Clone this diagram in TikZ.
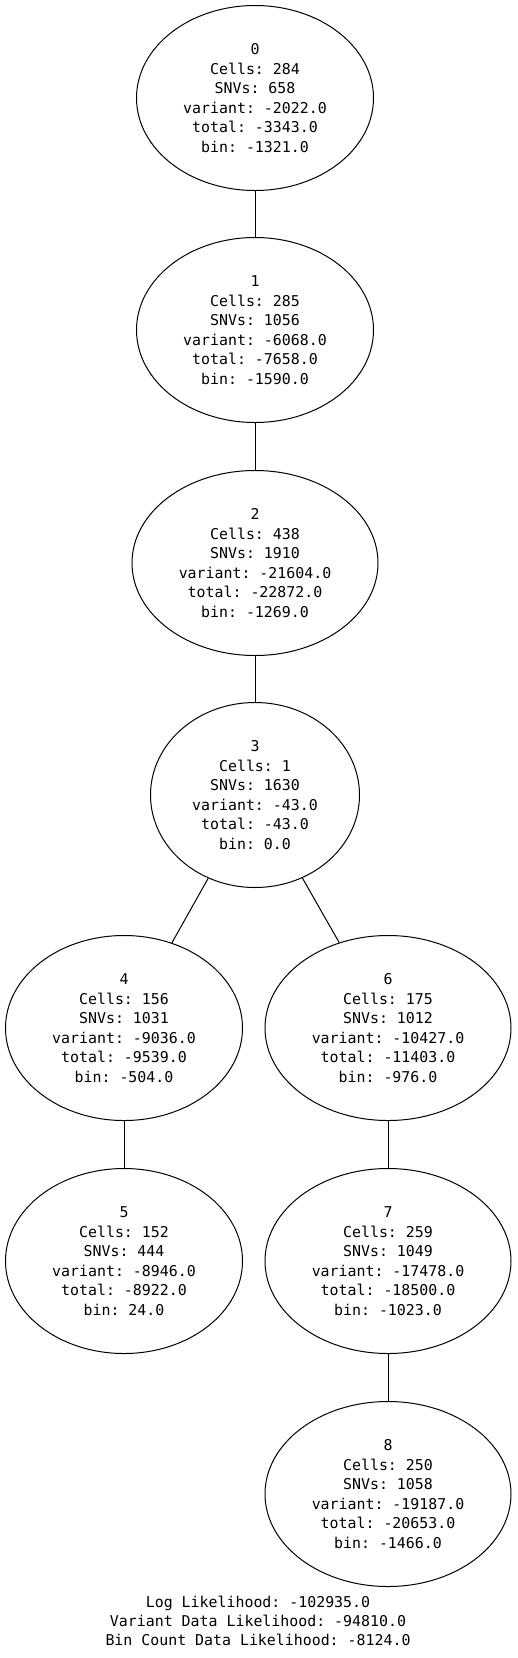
\documentclass[tikz,border=0pt]{standalone}
\usepackage{fontspec}
\newfontfamily\dvm{DejaVu Sans Mono}
\usetikzlibrary{shapes.geometric}
\frenchspacing
\tikzset{
  treenode/.style={ellipse, draw=black, line width=1pt, inner sep=0pt,
    minimum height=185pt, align=center,
    font=\dvm\frenchspacing\fontsize{14.9}{19.5}\selectfont},
  wideA/.style={minimum width=237pt},
  wideB/.style={minimum width=246pt},
  wideC/.style={minimum width=209pt},
  treeedge/.style={draw=black, line width=1pt},
  footer/.style={align=center, inner sep=0pt, font=\dvm\frenchspacing\fontsize{14.9}{19}\selectfont}
}
\begin{document}
\begin{tikzpicture}[x=1pt,y=-1pt]
\fill[white] (0,0) rectangle (517,1658);
\useasboundingbox (0,0) rectangle (517,1658);
\node[treenode,wideA] (n0) at (255,98) {0\\Cells: 284\\SNVs: 658\\variant: -2022.0\\total: -3343.0\\bin: -1321.0};
\node[treenode,wideA] (n1) at (255,330) {1\\Cells: 285\\SNVs: 1056\\variant: -6068.0\\total: -7658.0\\bin: -1590.0};
\node[treenode,wideB] (n2) at (255,563) {2\\Cells: 438\\SNVs: 1910\\variant: -21604.0\\total: -22872.0\\bin: -1269.0};
\node[treenode,wideC] (n3) at (255,795) {3\\Cells: 1\\SNVs: 1630\\variant: -43.0\\total: -43.0\\bin: 0.0};
\node[treenode,wideA] (n4) at (124,1028) {4\\Cells: 156\\SNVs: 1031\\variant: -9036.0\\total: -9539.0\\bin: -504.0};
\node[treenode,wideB] (n6) at (388,1028) {6\\Cells: 175\\SNVs: 1012\\variant: -10427.0\\total: -11403.0\\bin: -976.0};
\node[treenode,wideA] (n5) at (124,1261) {5\\Cells: 152\\SNVs: 444\\variant: -8946.0\\total: -8922.0\\bin: 24.0};
\node[treenode,wideB] (n7) at (388,1261) {7\\Cells: 259\\SNVs: 1049\\variant: -17478.0\\total: -18500.0\\bin: -1023.0};
\node[treenode,wideB] (n8) at (388,1494) {8\\Cells: 250\\SNVs: 1058\\variant: -19187.0\\total: -20653.0\\bin: -1466.0};
\node[footer] (foot) at (258,1621) {Log Likelihood: -102935.0\\Variant Data Likelihood: -94810.0\\Bin Count Data Likelihood: -8124.0};
\draw[treeedge] (n0) -- (n1);
\draw[treeedge] (n1) -- (n2);
\draw[treeedge] (n2) -- (n3);
\draw[treeedge] (n3) -- (n4);
\draw[treeedge] (n3) -- (n6);
\draw[treeedge] (n4) -- (n5);
\draw[treeedge] (n6) -- (n7);
\draw[treeedge] (n7) -- (n8);
\end{tikzpicture}
\end{document}
